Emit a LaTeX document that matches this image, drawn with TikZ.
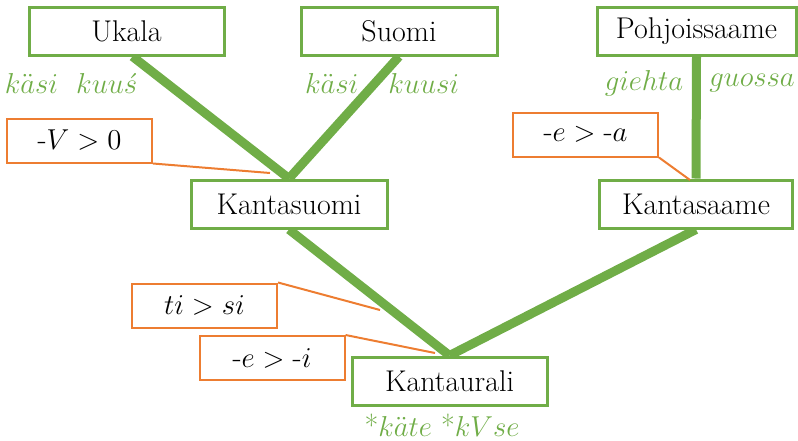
\documentclass[tikz,border=0pt]{standalone}
\usepackage{amsmath}
\usetikzlibrary{backgrounds}
\definecolor{lgreen}{HTML}{70AD47}
\definecolor{lorange}{HTML}{ED7D31}
\tikzset{
  lang/.style={draw=lgreen, line width=1.5pt, fill=white, minimum height=24pt,
    inner sep=0pt, font=\fontsize{15}{18}\selectfont},
  rule/.style={draw=lorange, line width=1pt, fill=white, minimum width=72.5pt,
    minimum height=22pt, inner sep=0pt, font=\fontsize{15}{18}\selectfont},
  branch/.style={draw=lgreen, line width=4.5pt},
  pointer/.style={draw=lorange, line width=1pt},
  form/.style={text=lgreen, inner sep=0pt, font=\fontsize{15}{18}\selectfont},
}
\begin{document}
\begin{tikzpicture}[x=0.5pt, y=-0.5pt]
  \useasboundingbox (0,0) rectangle (798,440);

  % language nodes
  \node[lang, minimum width=97.5pt] (ukala) at (126.5,31) {Ukala};
  \node[lang, minimum width=98pt] (suomi) at (399,31) {Suomi};
  \node[lang, minimum width=99.5pt] (pohj) at (696.5,31) {Pohjoissaame};
  \node[lang, minimum width=98pt] (ksuomi) at (289,204) {Kantasuomi};
  \node[lang, minimum width=96.5pt] (ksaame) at (696,204) {Kantasaame};
  \node[lang, minimum width=97.5pt] (kural) at (449.5,381) {Kantaurali};

  % tree branches, behind the boxes
  \begin{pgfonlayer}{background}
    \draw[branch] ([xshift=3pt]ukala.south) -- (ksuomi.north);
    \draw[branch] (suomi.south) -- (ksuomi.north);
    \draw[branch] (pohj.south) -- (ksaame.north);
    \draw[branch] (ksuomi.south) -- (kural.north);
    \draw[branch] (ksaame.south) -- (kural.north);
  \end{pgfonlayer}

  % sound-change boxes and their pointers
  \coordinate (pV) at (270,173);
  \coordinate (pea) at (690,180);
  \coordinate (pts) at (380,310);
  \coordinate (pei) at (435,353);
  \node[rule] (rV) at (79.5,140.5) {$\text{-}V>0$};
  \node[rule] (rea) at (585.5,134.5) {$\text{-}e>\text{-}a$};
  \node[rule] (rts) at (204.5,305.5) {$ti>si$};
  \node[rule] (rei) at (272,358) {$\text{-}e>\text{-}i$};
  \draw[pointer] (rV.south east) -- (pV);
  \draw[pointer] (rea.south east) -- (pea);
  \draw[pointer] (rts.north east) -- (pts);
  \draw[pointer] (rei.north east) -- (pei);

  % word forms
  \node[form] (fukala) at (71,83) {$k\ddot{a}si\ \ kuu\acute{s}$};
  \node[form] (fsuomi) at (382,83) {$k\ddot{a}si\quad kuusi$};
  \node[form] (fpohj1) at (644,83) {$giehta$};
  \node[form] (fpohj2) at (752,83) {$guossa$};
  \node[form] (fural) at (442,425) {\text{*}$k\ddot{a}te$ \text{*}$kVse$};
\end{tikzpicture}
\end{document}
